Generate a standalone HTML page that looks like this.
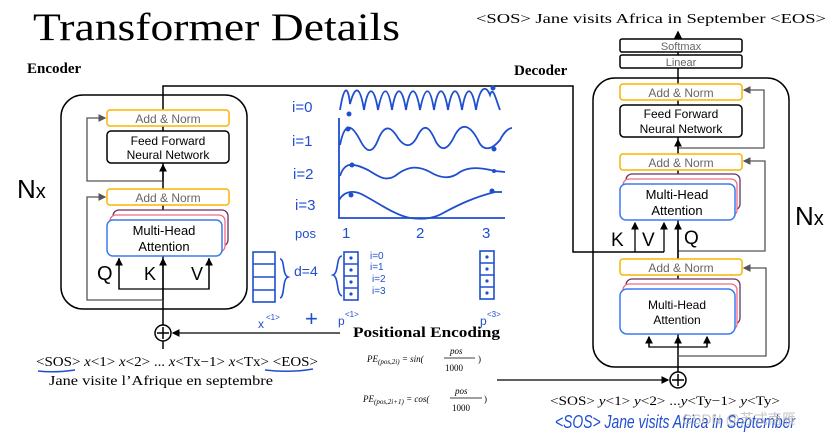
<!DOCTYPE html>
<html><head><meta charset="utf-8"><style>
html,body{margin:0;padding:0;background:#fff;}
svg{display:block;}
.s{font-family:"Liberation Serif",serif;}
.a{font-family:"Liberation Sans",sans-serif;}
.h{font-family:"Liberation Sans",sans-serif;fill:#1f4fcf;}
</style></head><body>
<svg width="836" height="436" viewBox="0 0 836 436" xmlns="http://www.w3.org/2000/svg">
<defs>
<marker id="ab" markerWidth="6" markerHeight="6" refX="5" refY="3" orient="auto"><path d="M0,0 L6,3 L0,6z" fill="#000"/></marker>
<marker id="ag" markerWidth="6" markerHeight="6" refX="5" refY="3" orient="auto"><path d="M0,0 L6,3 L0,6z" fill="#555"/></marker>
</defs>
<text x="33" y="40" class="s" font-size="39" textLength="367" lengthAdjust="spacingAndGlyphs">Transformer Details</text>
<text x="27" y="73" class="s" font-size="15" font-weight="bold">Encoder</text>
<text x="514" y="75" class="s" font-size="15" font-weight="bold">Decoder</text>
<text x="476" y="23" class="s" font-size="14" textLength="350" lengthAdjust="spacingAndGlyphs">&lt;SOS&gt; Jane visits Africa in September &lt;EOS&gt;</text>

<!-- Encoder -->
<rect x="61" y="95" width="186" height="214" rx="22" fill="none" stroke="#000" stroke-width="1.5"/>
<text x="17" y="198" class="a" font-size="26">N<tspan font-size="20">x</tspan></text>
<path d="M163,333 V86 H573 V252 H664" fill="none" stroke="#000" stroke-width="1.5"/>
<path d="M163,300 H87 V197 H105" fill="none" stroke="#555" stroke-width="1.3" marker-end="url(#ag)"/>
<path d="M163,181 H87 V118 H105" fill="none" stroke="#555" stroke-width="1.3" marker-end="url(#ag)"/>
<path d="M163,181 V165" stroke="#000" stroke-width="1.3" marker-end="url(#ab)"/>
<rect x="107" y="110" width="122" height="16" rx="3" fill="#fff" stroke="#f7b500" stroke-width="1.5"/>
<text x="168" y="123" class="a" font-size="12" fill="#666" text-anchor="middle">Add &amp; Norm</text>
<rect x="107" y="131" width="122" height="32" rx="4" fill="#fff" stroke="#000" stroke-width="1.5"/>
<text x="168" y="145" class="a" font-size="12" text-anchor="middle">Feed Forward</text>
<text x="168" y="159" class="a" font-size="12" text-anchor="middle">Neural Network</text>
<rect x="107" y="189" width="122" height="16" rx="3" fill="#fff" stroke="#f7b500" stroke-width="1.5"/>
<text x="168" y="202" class="a" font-size="12" fill="#666" text-anchor="middle">Add &amp; Norm</text>
<rect x="113" y="210" width="115" height="36" rx="6" fill="#fff" stroke="#6b3060" stroke-width="1.3"/>
<rect x="110" y="215" width="115" height="37" rx="6" fill="#fff" stroke="#f06a80" stroke-width="1.3"/>
<rect x="107" y="220" width="115" height="36" rx="6" fill="#fff" stroke="#3a7af0" stroke-width="1.5"/>
<text x="164" y="235" class="a" font-size="13" text-anchor="middle">Multi-Head</text>
<text x="164" y="251" class="a" font-size="13" text-anchor="middle">Attention</text>
<path d="M119,258 V289 H209 V258" fill="none" stroke="#000" stroke-width="1.3"/>
<path d="M119,289 V259" stroke="#000" stroke-width="1.3" marker-end="url(#ab)"/>
<path d="M209,289 V259" stroke="#000" stroke-width="1.3" marker-end="url(#ab)"/>
<path d="M163,300 V259" stroke="#000" stroke-width="1.3" marker-end="url(#ab)"/>
<text x="97" y="280" class="a" font-size="20">Q</text>
<text x="144" y="280" class="a" font-size="18">K</text>
<text x="191" y="280" class="a" font-size="18">V</text>
<circle cx="163" cy="333" r="8" fill="#fff" stroke="#000" stroke-width="1.5"/>
<path d="M157,333 H169 M163,327 V339" stroke="#000" stroke-width="1.5"/>
<path d="M163,341 V349" stroke="#000" stroke-width="1.5"/>
<path d="M340,333 H173" stroke="#000" stroke-width="1.3" marker-end="url(#ab)"/>
<text x="36" y="366" class="s" font-size="14" textLength="282" lengthAdjust="spacingAndGlyphs">&lt;SOS&gt; <tspan font-style="italic">x</tspan>&lt;1&gt; <tspan font-style="italic">x</tspan>&lt;2&gt; ... <tspan font-style="italic">x</tspan>&lt;Tx−1&gt; <tspan font-style="italic">x</tspan>&lt;Tx&gt; &lt;EOS&gt;</text>
<path d="M38,371 Q55,373 75,370 M265,370 Q290,373 313,369" stroke="#1f4fcf" stroke-width="1.5" fill="none"/>
<text x="49" y="385" class="s" font-size="14" textLength="224" lengthAdjust="spacingAndGlyphs">Jane visite l’Afrique en septembre</text>

<!-- Middle PE -->
<g class="h" font-size="15">
<text x="292" y="112">i=0</text><text x="292" y="146">i=1</text><text x="293" y="179">i=2</text><text x="295" y="210">i=3</text>
<text x="295" y="238" font-size="13">pos</text>
<text x="342" y="238">1</text><text x="416" y="238">2</text><text x="482" y="238">3</text>
<text x="294" y="276" font-size="14">d=4</text>
<text x="370" y="259" font-size="10">i=0</text><text x="370" y="270" font-size="10">i=1</text><text x="372" y="282" font-size="10">i=2</text><text x="372" y="294" font-size="10">i=3</text>
<text x="258" y="328" font-size="12">x</text><text x="266" y="320" font-size="8">&lt;1&gt;</text>
<text x="305" y="326" font-size="22">+</text>
<text x="338" y="325" font-size="12">p</text><text x="345" y="317" font-size="8">&lt;1&gt;</text>
<text x="480" y="325" font-size="12">p</text><text x="487" y="317" font-size="8">&lt;3&gt;</text>
</g>
<g stroke="#1f4fcf" stroke-width="1.8" fill="none">
<path d="M339,118 V218 H505"/>
<path d="M340,110 C344,85 348,85 350,104 C355,85 360,85 364,110 C368,85 374,85 378,110 C383,85 388,85 392,110 C396,85 402,85 406,110 C410,85 416,85 420,110 C425,85 430,85 434,110 C438,85 444,85 448,110 C452,85 458,85 462,110 C466,85 472,85 476,110 C480,85 486,85 490,95 C493,85 496,100 500,110"/>
<path d="M340,145 C345,120 352,125 360,140 C366,152 372,155 378,140 C385,122 392,128 398,138 C405,148 412,148 418,135 C425,122 430,128 436,142 C442,152 448,150 455,135 C462,122 470,125 478,140 C482,150 490,152 500,140 C505,130 510,128 512,128"/>
<path d="M340,176 C345,160 355,164 368,170 C378,176 385,182 395,176 C405,168 415,164 430,172 C440,178 450,180 460,172 C470,166 482,168 495,171 L505,172"/>
<path d="M339,200 C345,190 355,190 365,196 C380,204 395,215 410,218 C425,220 435,218 445,212 C460,204 475,197 495,192 L502,192"/>
</g>
<g fill="#1f4fcf">
<circle cx="349" cy="114" r="2.5"/><circle cx="493" cy="88" r="2.5"/><circle cx="348" cy="129" r="2.5"/><circle cx="494" cy="149" r="2.5"/>
<circle cx="352" cy="165" r="2.5"/><circle cx="494" cy="171" r="2"/><circle cx="351" cy="195" r="2.5"/><circle cx="492" cy="191" r="2.5"/>
</g>
<g stroke="#1f4fcf" stroke-width="1.6" fill="none">
<rect x="253" y="252" width="22" height="50"/><path d="M253,264 H275 M253,277 H275 M253,290 H275"/>
<path d="M280,259 C285,259 282,275 288,277 C282,279 285,297 280,298"/>
<path d="M342,256 C336,256 339,273 333,275 C339,277 336,294 342,296"/>
<rect x="344" y="252" width="14" height="48"/><path d="M344,264 H358 M344,276 H358 M344,288 H358"/>
<rect x="480" y="251" width="14" height="48"/><path d="M480,263 H494 M480,275 H494 M480,287 H494"/>
</g>
<g fill="#1f4fcf"><circle cx="351" cy="258" r="1.6"/><circle cx="351" cy="270" r="1.6"/><circle cx="351" cy="282" r="1.6"/><circle cx="351" cy="294" r="1.6"/>
<circle cx="487" cy="257" r="1.6"/><circle cx="487" cy="269" r="1.6"/><circle cx="487" cy="281" r="1.6"/><circle cx="487" cy="293" r="1.6"/></g>
<text x="353" y="337" class="s" font-size="15" font-weight="bold" textLength="147" lengthAdjust="spacingAndGlyphs">Positional Encoding</text>
<text x="367" y="362" class="s" font-size="9" font-style="italic">PE<tspan font-size="7" dy="2">(pos,2i)</tspan><tspan dy="-2"> = sin(</tspan></text>
<text x="450" y="354" class="s" font-size="9" font-style="italic">pos</text>
<path d="M444,358 H475" stroke="#000" stroke-width="0.8"/>
<text x="445" y="371" class="s" font-size="9">1000</text><text x="478" y="362" class="s" font-size="9">)</text>
<text x="363" y="402" class="s" font-size="9" font-style="italic">PE<tspan font-size="7" dy="2">(pos,2i+1)</tspan><tspan dy="-2"> = cos(</tspan></text>
<text x="455" y="394" class="s" font-size="9" font-style="italic">pos</text>
<path d="M450,398 H482" stroke="#000" stroke-width="0.8"/>
<text x="452" y="411" class="s" font-size="9">1000</text><text x="484" y="402" class="s" font-size="9">)</text>

<!-- Decoder -->
<rect x="593" y="78" width="196" height="289" rx="22" fill="none" stroke="#000" stroke-width="1.5"/>
<text x="795" y="225" class="a" font-size="26">N<tspan font-size="20">x</tspan></text>
<path d="M678,372 V32" stroke="#000" stroke-width="1.5" marker-end="url(#ab)"/>
<rect x="620" y="39" width="122" height="13" rx="2" fill="#fff" stroke="#000" stroke-width="1.5"/>
<text x="681" y="50" class="a" font-size="11" fill="#666" text-anchor="middle">Softmax</text>
<rect x="620" y="55" width="122" height="13" rx="2" fill="#fff" stroke="#000" stroke-width="1.5"/>
<text x="681" y="66" class="a" font-size="11" fill="#666" text-anchor="middle">Linear</text>
<path d="M678,148 H764 V90 H744" fill="none" stroke="#555" stroke-width="1.3" marker-end="url(#ag)"/>
<path d="M678,251 H765 V161 H744" fill="none" stroke="#555" stroke-width="1.3" marker-end="url(#ag)"/>
<path d="M678,356 H766 V268 H744" fill="none" stroke="#555" stroke-width="1.3" marker-end="url(#ag)"/>
<rect x="620" y="84" width="122" height="16" rx="3" fill="#fff" stroke="#f7b500" stroke-width="1.5"/>
<text x="681" y="97" class="a" font-size="12" fill="#666" text-anchor="middle">Add &amp; Norm</text>
<rect x="620" y="105" width="122" height="32" rx="4" fill="#fff" stroke="#000" stroke-width="1.5"/>
<text x="681" y="118" class="a" font-size="12" text-anchor="middle">Feed Forward</text>
<text x="681" y="133" class="a" font-size="12" text-anchor="middle">Neural Network</text>
<path d="M678,150 V140" stroke="#000" stroke-width="1.3" marker-end="url(#ab)"/>
<rect x="620" y="154" width="122" height="16" rx="3" fill="#fff" stroke="#f7b500" stroke-width="1.5"/>
<text x="681" y="167" class="a" font-size="12" fill="#666" text-anchor="middle">Add &amp; Norm</text>
<rect x="626" y="174" width="114" height="36" rx="6" fill="#fff" stroke="#6b3060" stroke-width="1.3"/>
<rect x="623" y="179" width="114" height="37" rx="6" fill="#fff" stroke="#f06a80" stroke-width="1.3"/>
<rect x="620" y="184" width="115" height="36" rx="6" fill="#fff" stroke="#3a7af0" stroke-width="1.5"/>
<text x="677" y="199" class="a" font-size="13" text-anchor="middle">Multi-Head</text>
<text x="677" y="215" class="a" font-size="13" text-anchor="middle">Attention</text>
<path d="M635,252 V223" stroke="#000" stroke-width="1.3" marker-end="url(#ab)"/>
<path d="M664,252 V223" stroke="#000" stroke-width="1.3" marker-end="url(#ab)"/>
<path d="M678,258 V223" stroke="#000" stroke-width="1.3" marker-end="url(#ab)"/>
<text x="611" y="246" class="a" font-size="19">K</text>
<text x="642" y="246" class="a" font-size="19">V</text>
<text x="684" y="244" class="a" font-size="19">Q</text>
<rect x="620" y="259" width="122" height="16" rx="3" fill="#fff" stroke="#f7b500" stroke-width="1.5"/>
<text x="681" y="272" class="a" font-size="12" fill="#666" text-anchor="middle">Add &amp; Norm</text>
<rect x="626" y="279" width="114" height="45" rx="6" fill="#fff" stroke="#6b3060" stroke-width="1.3"/>
<rect x="623" y="284" width="114" height="46" rx="6" fill="#fff" stroke="#f06a80" stroke-width="1.3"/>
<rect x="620" y="289" width="115" height="45" rx="7" fill="#fff" stroke="#3a7af0" stroke-width="1.5"/>
<text x="677" y="309" class="a" font-size="12" text-anchor="middle">Multi-Head</text>
<text x="677" y="324" class="a" font-size="12" text-anchor="middle">Attention</text>
<path d="M649,337 V347 H707 V337" fill="none" stroke="#000" stroke-width="1.3"/>
<path d="M649,347 V337" stroke="#000" stroke-width="1.3" marker-end="url(#ab)"/>
<path d="M707,347 V337" stroke="#000" stroke-width="1.3" marker-end="url(#ab)"/>
<path d="M678,347 V337" stroke="#000" stroke-width="1.3" marker-end="url(#ab)"/>
<circle cx="678" cy="380" r="8" fill="#fff" stroke="#000" stroke-width="1.5"/>
<path d="M672,380 H684 M678,374 V386" stroke="#000" stroke-width="1.5"/>
<path d="M497,380 H668" stroke="#000" stroke-width="1.3" marker-end="url(#ab)"/>
<text x="550" y="405" class="s" font-size="13" textLength="230" lengthAdjust="spacingAndGlyphs">&lt;SOS&gt; <tspan font-style="italic">y</tspan>&lt;1&gt;  <tspan font-style="italic">y</tspan>&lt;2&gt; ...<tspan font-style="italic">y</tspan>&lt;Ty−1&gt;  <tspan font-style="italic">y</tspan>&lt;Ty&gt;</text>
<text x="555" y="428" class="h" font-size="18" textLength="240" lengthAdjust="spacingAndGlyphs" font-style="italic">&lt;SOS&gt; Jane visits Africa in September</text>
<text x="682" y="424" class="a" font-size="14" fill="#bbb" opacity="0.85">CSDN @苏式南雁</text>
</svg>
</body></html>
